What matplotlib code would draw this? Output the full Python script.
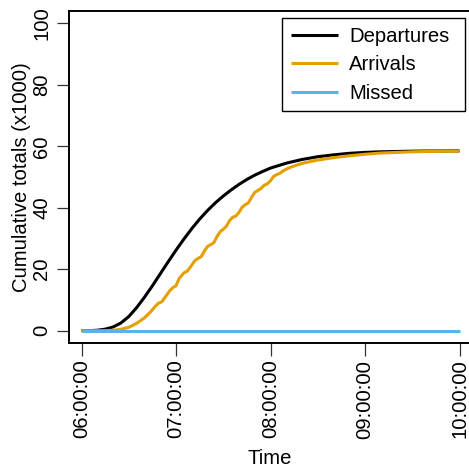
import matplotlib
matplotlib.use("Agg")
import matplotlib.pyplot as plt
from matplotlib.lines import Line2D
from matplotlib.patches import Rectangle
import numpy as np

plt.rcParams["font.family"] = ["Liberation Sans", "DejaVu Sans"]

# Minutes after 06:00 and cumulative totals (thousands)
dep_minutes = [0, 5, 10, 15, 20, 25, 30, 35, 40, 45, 50, 55, 60, 65, 70, 75,
               80, 85, 90, 95, 100, 105, 110, 115, 120, 130, 140, 150, 160,
               170, 180, 190, 200, 210, 220, 240]
departures = [0.0, 0.02, 0.15, 0.5, 1.2, 2.5, 4.6, 7.5, 10.9, 14.6, 18.5,
              22.4, 26.2, 29.8, 33.2, 36.3, 39.1, 41.6, 43.8, 45.8, 47.6,
              49.2, 50.6, 51.8, 52.9, 54.5, 55.7, 56.6, 57.2, 57.7, 58.0,
              58.2, 58.3, 58.4, 58.45, 58.5]

arr_minutes = [0, 15, 20, 25, 30, 35, 40, 44, 47, 49, 51, 53, 56, 58, 60, 62,
               65, 67, 69, 72, 74, 76, 78, 80, 82, 84, 86, 88, 90, 92, 94, 96,
               98, 100, 102, 104, 106, 108, 110, 112, 114, 116, 118, 120, 122,
               124, 126, 128, 131, 135, 140, 145, 150, 160, 170, 180, 190, 200,
               210, 220, 230, 240]
arrivals = [0.0, 0.0, 0.15, 0.45, 1.1, 2.4, 4.2, 6.2, 8.0, 9.0, 9.4, 10.8,
            13.0, 14.0, 14.6, 17.0, 18.8, 19.3, 20.6, 22.8, 23.5, 24.1, 25.9,
            27.4, 28.0, 28.6, 30.6, 32.2, 33.0, 34.0, 35.8, 36.9, 37.3, 38.5,
            40.2, 41.0, 41.6, 43.4, 45.0, 45.6, 46.3, 47.3, 47.8, 48.8, 50.2,
            50.8, 51.2, 52.0, 52.8, 53.6, 54.4, 55.0, 55.5, 56.3, 56.9, 57.4,
            57.8, 58.0, 58.2, 58.3, 58.4, 58.4]

missed_minutes = [0, 240]
missed = [0.0, 0.0]

series_names = ["Departures", "Arrivals", "Missed"]
series_colors = ["black", "#E69F00", "#56B4E9"]

tick_hours = [6, 7, 8, 9, 10]
tick_labels = ["06:00:00", "07:00:00", "08:00:00", "09:00:00", "10:00:00"]
y_ticks = [0, 20, 40, 60, 80, 100]

FS = 14.6
LW = 2.2

W, H = 469, 470
fig = plt.figure(figsize=(W / 100, H / 100), dpi=100)
ax = fig.add_axes([69 / W, 1 - 343 / H, (473 - 69) / W, (343 - 11) / H])


def to_hours(m):
    return 6 + np.asarray(m) / 60.0


for mins, vals, col in [(dep_minutes, departures, series_colors[0]),
                        (arr_minutes, arrivals, series_colors[1]),
                        (missed_minutes, missed, series_colors[2])]:
    ax.plot(to_hours(mins), vals, color=col, lw=LW, solid_capstyle="butt")

ax.set_xlim(6 - 12.5 / 94.5, 6 + (473 - 81.5) / 94.5)
ax.set_ylim(-4, 104)

ax.set_xticks(tick_hours)
ax.set_xticklabels(tick_labels, rotation=90, fontsize=FS)
ax.set_yticks(y_ticks)
ax.set_yticklabels([str(v) for v in y_ticks], rotation=90, va="center",
                   fontsize=FS)
ax.tick_params(axis="both", length=9, width=0.9, color="#333333")
ax.tick_params(axis="x", pad=3)
ax.tick_params(axis="y", pad=3.7)

for s in ax.spines.values():
    s.set_linewidth(1.4)
    s.set_color("black")

ax.set_xlabel("Time", fontsize=FS)
ax.set_ylabel("Cumulative totals (x1000)", fontsize=FS)
ax.xaxis.set_label_coords((270 - 69) / 404, -(449 - 343) / 332)
ax.yaxis.set_label_coords(-(69 - 31) / 404, 0.5)

# Legend box in figure pixel coordinates (y measured from the top)
def px(x, y):
    return x / W, 1 - y / H


x0, y0 = px(282.3, 111)
x1, y1 = px(465, 18.3)
fig.add_artist(Rectangle((x0, y0), x1 - x0, y1 - y0, transform=fig.transFigure,
                         facecolor="white", edgecolor="black", lw=1.0,
                         zorder=5))
for name, col, ly in zip(series_names, series_colors, [35, 63.3, 91.6]):
    lx0, lyf = px(290.7, ly)
    lx1, _ = px(338.3, ly)
    fig.add_artist(Line2D([lx0, lx1], [lyf, lyf], transform=fig.transFigure,
                          color=col, lw=LW, solid_capstyle="butt", zorder=6))
    tx, ty = px(349, ly + 7)
    fig.text(tx, ty, name, fontsize=FS, ha="left", va="baseline", zorder=6)

fig.savefig("out.png", dpi=100)
